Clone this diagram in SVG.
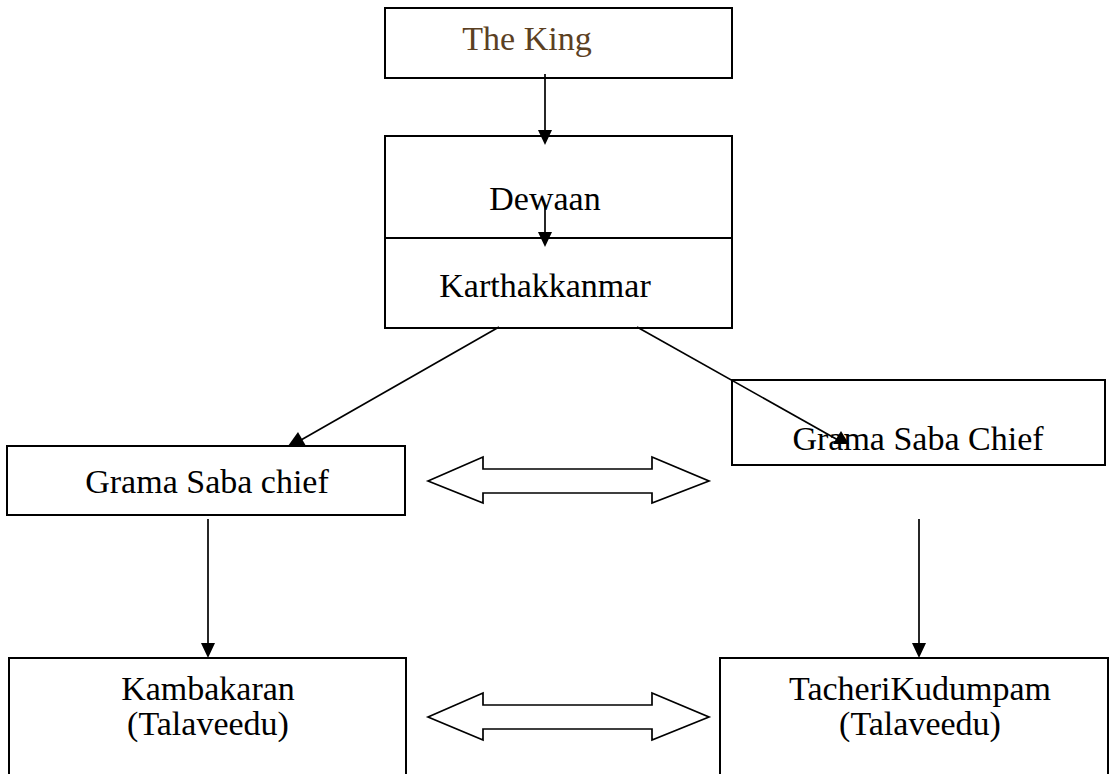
<svg xmlns="http://www.w3.org/2000/svg" width="1110" height="774" viewBox="0 0 1110 774">
<style>
.box{fill:#fff;stroke:#000;stroke-width:2}
.ln{fill:none;stroke:#000;stroke-width:1.7}
.hd{fill:#000;stroke:none}
.dbl{fill:#fff;stroke:#000;stroke-width:1.7;stroke-linejoin:miter}
text{font-family:"Liberation Serif","Times New Roman",serif;font-size:34px;fill:#000;text-anchor:middle}
</style>
<rect width="1110" height="774" fill="#fff"/>
<g id="king"><rect class="box" x="385" y="8" width="347" height="70"/><text x="527" y="50" style="fill:#5b4022">The King</text></g>
<g id="dewaan"><rect class="box" x="385" y="136" width="347" height="102"/><text x="545" y="210">Dewaan</text></g>
<g id="karthakkanmar"><rect class="box" x="385" y="238" width="347" height="90"/><text x="545" y="297">Karthakkanmar</text></g>
<g id="grama-right"><rect class="box" x="732" y="380" width="373" height="85"/><text x="918" y="450">Grama Saba Chief</text></g>
<g id="connectors">
<line class="ln" x1="545" y1="74" x2="545" y2="132"/>
<polygon class="hd" points="538,130 552,130 545,145"/>
<line class="ln" x1="545" y1="205" x2="545" y2="234"/>
<polygon class="hd" points="538,232 552,232 545,247"/>
<line class="ln" x1="499" y1="327" x2="294" y2="444"/>
<polygon class="hd" points="288,446 306,446 298,432"/>
<line class="ln" x1="637" y1="327" x2="838" y2="440"/>
<polygon class="hd" points="833,444 849,444 841,431"/>
<line class="ln" x1="208" y1="519" x2="208" y2="645"/>
<polygon class="hd" points="201,643 215,643 208,658"/>
<line class="ln" x1="919" y1="519" x2="919" y2="645"/>
<polygon class="hd" points="912,643 926,643 919,658"/>
<polygon class="dbl" points="428,481 483,457 483,469 652,469 652,457 709,481 652,503 652,493 483,493 483,503"/>
<polygon class="dbl" points="428,717 483,693 483,705 652,705 652,693 709,717 652,740 652,729 483,729 483,740"/>
</g>
<g id="grama-left"><rect class="box" x="7" y="446" width="398" height="69"/><text x="207" y="493">Grama Saba chief</text></g>
<g id="kambakaran"><rect class="box" x="9" y="658" width="397" height="130"/><text x="208" y="700">Kambakaran</text><text x="208" y="735">(Talaveedu)</text></g>
<g id="tacheri"><rect class="box" x="720" y="658" width="388" height="130"/><text x="920" y="700">TacheriKudumpam</text><text x="920" y="735">(Talaveedu)</text></g>
</svg>
